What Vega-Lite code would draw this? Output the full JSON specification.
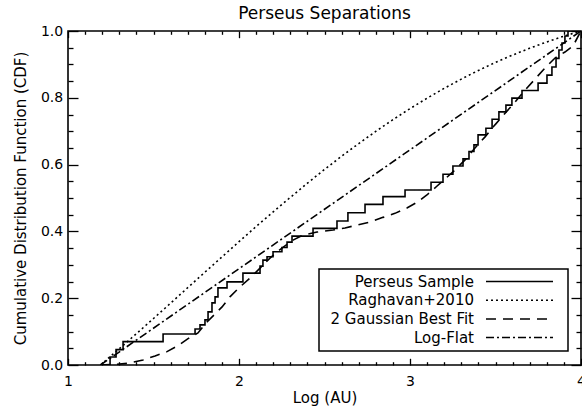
{
  "$schema": "https://vega.github.io/schema/vega-lite/v6.json",
  "width": 513,
  "height": 334,
  "autosize": {"type": "none"},
  "padding": {"left": 68, "top": 31, "right": 1, "bottom": 50},
  "title": {"text": "Perseus Separations", "fontSize": 17, "fontWeight": "normal", "font": "DejaVu Sans", "color": "black", "baseline": "alphabetic", "offset": -11.5, "anchor": "middle", "frame": "group"},
  "config": {
    "view": {"stroke": "black", "strokeWidth": 1.6},
    "font": "DejaVu Sans",
    "axis": {"labelColor": "black", "titleColor": "black", "domain": false, "ticks": true, "tickColor": "#000000", "tickOpacity": 1, "tickWidth": 1.3, "grid": false, "labelFont": "DejaVu Sans", "titleFont": "DejaVu Sans", "labelFontSize": 14, "titleFontSize": 15, "titleFontWeight": "normal", "labelFlush": false, "zindex": 1},
    "legend": {"strokeWidth": 1.5}
  },
  "datasets": {
    "raghavan": [
      {"series": "Raghavan+2010", "x": 1.19, "y": 0},
      {"series": "Raghavan+2010", "x": 1.3, "y": 0.0486},
      {"series": "Raghavan+2010", "x": 1.4, "y": 0.0937},
      {"series": "Raghavan+2010", "x": 1.5, "y": 0.1393},
      {"series": "Raghavan+2010", "x": 1.6, "y": 0.1851},
      {"series": "Raghavan+2010", "x": 1.7, "y": 0.2314},
      {"series": "Raghavan+2010", "x": 1.8, "y": 0.2775},
      {"series": "Raghavan+2010", "x": 1.9, "y": 0.3234},
      {"series": "Raghavan+2010", "x": 2.0, "y": 0.3692},
      {"series": "Raghavan+2010", "x": 2.1, "y": 0.4145},
      {"series": "Raghavan+2010", "x": 2.2, "y": 0.4583},
      {"series": "Raghavan+2010", "x": 2.3, "y": 0.5018},
      {"series": "Raghavan+2010", "x": 2.4, "y": 0.5442},
      {"series": "Raghavan+2010", "x": 2.5, "y": 0.5854},
      {"series": "Raghavan+2010", "x": 2.6, "y": 0.625},
      {"series": "Raghavan+2010", "x": 2.7, "y": 0.6629},
      {"series": "Raghavan+2010", "x": 2.8, "y": 0.6995},
      {"series": "Raghavan+2010", "x": 2.9, "y": 0.7345},
      {"series": "Raghavan+2010", "x": 3.0, "y": 0.7676},
      {"series": "Raghavan+2010", "x": 3.1, "y": 0.7988},
      {"series": "Raghavan+2010", "x": 3.2, "y": 0.8283},
      {"series": "Raghavan+2010", "x": 3.3, "y": 0.856},
      {"series": "Raghavan+2010", "x": 3.4, "y": 0.8819},
      {"series": "Raghavan+2010", "x": 3.5, "y": 0.906},
      {"series": "Raghavan+2010", "x": 3.6, "y": 0.928},
      {"series": "Raghavan+2010", "x": 3.7, "y": 0.9484},
      {"series": "Raghavan+2010", "x": 3.8, "y": 0.9673},
      {"series": "Raghavan+2010", "x": 3.9, "y": 0.9845},
      {"series": "Raghavan+2010", "x": 4.0, "y": 1.0}
    ],
    "gaussian": [
      {"series": "2 Gaussian Best Fit", "x": 1.187, "y": 0},
      {"series": "2 Gaussian Best Fit", "x": 1.275, "y": 0.0015},
      {"series": "2 Gaussian Best Fit", "x": 1.345, "y": 0.005},
      {"series": "2 Gaussian Best Fit", "x": 1.439, "y": 0.015},
      {"series": "2 Gaussian Best Fit", "x": 1.509, "y": 0.027},
      {"series": "2 Gaussian Best Fit", "x": 1.579, "y": 0.04},
      {"series": "2 Gaussian Best Fit", "x": 1.643, "y": 0.058},
      {"series": "2 Gaussian Best Fit", "x": 1.702, "y": 0.079},
      {"series": "2 Gaussian Best Fit", "x": 1.76, "y": 0.096},
      {"series": "2 Gaussian Best Fit", "x": 1.813, "y": 0.129},
      {"series": "2 Gaussian Best Fit", "x": 1.86, "y": 0.153},
      {"series": "2 Gaussian Best Fit", "x": 1.901, "y": 0.174},
      {"series": "2 Gaussian Best Fit", "x": 1.947, "y": 0.204},
      {"series": "2 Gaussian Best Fit", "x": 2.006, "y": 0.234},
      {"series": "2 Gaussian Best Fit", "x": 2.064, "y": 0.26},
      {"series": "2 Gaussian Best Fit", "x": 2.123, "y": 0.29},
      {"series": "2 Gaussian Best Fit", "x": 2.181, "y": 0.32},
      {"series": "2 Gaussian Best Fit", "x": 2.251, "y": 0.35},
      {"series": "2 Gaussian Best Fit", "x": 2.316, "y": 0.374},
      {"series": "2 Gaussian Best Fit", "x": 2.374, "y": 0.389},
      {"series": "2 Gaussian Best Fit", "x": 2.456, "y": 0.398},
      {"series": "2 Gaussian Best Fit", "x": 2.55, "y": 0.404},
      {"series": "2 Gaussian Best Fit", "x": 2.62, "y": 0.41},
      {"series": "2 Gaussian Best Fit", "x": 2.69, "y": 0.419},
      {"series": "2 Gaussian Best Fit", "x": 2.766, "y": 0.428},
      {"series": "2 Gaussian Best Fit", "x": 2.842, "y": 0.442},
      {"series": "2 Gaussian Best Fit", "x": 2.912, "y": 0.454},
      {"series": "2 Gaussian Best Fit", "x": 2.982, "y": 0.47},
      {"series": "2 Gaussian Best Fit", "x": 3.041, "y": 0.487},
      {"series": "2 Gaussian Best Fit", "x": 3.099, "y": 0.509},
      {"series": "2 Gaussian Best Fit", "x": 3.152, "y": 0.533},
      {"series": "2 Gaussian Best Fit", "x": 3.205, "y": 0.557},
      {"series": "2 Gaussian Best Fit", "x": 3.263, "y": 0.584},
      {"series": "2 Gaussian Best Fit", "x": 3.322, "y": 0.614},
      {"series": "2 Gaussian Best Fit", "x": 3.38, "y": 0.65},
      {"series": "2 Gaussian Best Fit", "x": 3.439, "y": 0.683},
      {"series": "2 Gaussian Best Fit", "x": 3.497, "y": 0.719},
      {"series": "2 Gaussian Best Fit", "x": 3.556, "y": 0.754},
      {"series": "2 Gaussian Best Fit", "x": 3.614, "y": 0.787},
      {"series": "2 Gaussian Best Fit", "x": 3.673, "y": 0.823},
      {"series": "2 Gaussian Best Fit", "x": 3.731, "y": 0.856},
      {"series": "2 Gaussian Best Fit", "x": 3.789, "y": 0.889},
      {"series": "2 Gaussian Best Fit", "x": 3.848, "y": 0.919},
      {"series": "2 Gaussian Best Fit", "x": 3.906, "y": 0.937},
      {"series": "2 Gaussian Best Fit", "x": 3.953, "y": 0.955},
      {"series": "2 Gaussian Best Fit", "x": 4.0, "y": 1.0}
    ],
    "logflat": [
      {"series": "Log-Flat", "x": 1.19, "y": 0},
      {"series": "Log-Flat", "x": 4.0, "y": 1.0}
    ],
    "sample": [
      {"series": "Perseus Sample", "x": 1.19, "y": 0},
      {"series": "Perseus Sample", "x": 1.246, "y": 0.024},
      {"series": "Perseus Sample", "x": 1.281, "y": 0.046},
      {"series": "Perseus Sample", "x": 1.322, "y": 0.07},
      {"series": "Perseus Sample", "x": 1.556, "y": 0.093},
      {"series": "Perseus Sample", "x": 1.743, "y": 0.108},
      {"series": "Perseus Sample", "x": 1.772, "y": 0.12},
      {"series": "Perseus Sample", "x": 1.801, "y": 0.135},
      {"series": "Perseus Sample", "x": 1.819, "y": 0.159},
      {"series": "Perseus Sample", "x": 1.842, "y": 0.186},
      {"series": "Perseus Sample", "x": 1.86, "y": 0.204},
      {"series": "Perseus Sample", "x": 1.877, "y": 0.231},
      {"series": "Perseus Sample", "x": 1.93, "y": 0.249},
      {"series": "Perseus Sample", "x": 2.023, "y": 0.275},
      {"series": "Perseus Sample", "x": 2.123, "y": 0.296},
      {"series": "Perseus Sample", "x": 2.14, "y": 0.314},
      {"series": "Perseus Sample", "x": 2.164, "y": 0.324},
      {"series": "Perseus Sample", "x": 2.199, "y": 0.339},
      {"series": "Perseus Sample", "x": 2.251, "y": 0.352},
      {"series": "Perseus Sample", "x": 2.281, "y": 0.368},
      {"series": "Perseus Sample", "x": 2.31, "y": 0.386},
      {"series": "Perseus Sample", "x": 2.433, "y": 0.409},
      {"series": "Perseus Sample", "x": 2.573, "y": 0.431},
      {"series": "Perseus Sample", "x": 2.637, "y": 0.456},
      {"series": "Perseus Sample", "x": 2.737, "y": 0.481},
      {"series": "Perseus Sample", "x": 2.842, "y": 0.504},
      {"series": "Perseus Sample", "x": 2.971, "y": 0.524},
      {"series": "Perseus Sample", "x": 3.123, "y": 0.547},
      {"series": "Perseus Sample", "x": 3.193, "y": 0.571},
      {"series": "Perseus Sample", "x": 3.251, "y": 0.596},
      {"series": "Perseus Sample", "x": 3.31, "y": 0.617},
      {"series": "Perseus Sample", "x": 3.345, "y": 0.639},
      {"series": "Perseus Sample", "x": 3.374, "y": 0.659},
      {"series": "Perseus Sample", "x": 3.398, "y": 0.689},
      {"series": "Perseus Sample", "x": 3.444, "y": 0.709},
      {"series": "Perseus Sample", "x": 3.48, "y": 0.736},
      {"series": "Perseus Sample", "x": 3.52, "y": 0.758},
      {"series": "Perseus Sample", "x": 3.561, "y": 0.778},
      {"series": "Perseus Sample", "x": 3.596, "y": 0.799},
      {"series": "Perseus Sample", "x": 3.655, "y": 0.822},
      {"series": "Perseus Sample", "x": 3.749, "y": 0.844},
      {"series": "Perseus Sample", "x": 3.801, "y": 0.868},
      {"series": "Perseus Sample", "x": 3.83, "y": 0.892},
      {"series": "Perseus Sample", "x": 3.854, "y": 0.918},
      {"series": "Perseus Sample", "x": 3.871, "y": 0.943},
      {"series": "Perseus Sample", "x": 3.889, "y": 0.964},
      {"series": "Perseus Sample", "x": 3.906, "y": 0.985},
      {"series": "Perseus Sample", "x": 3.924, "y": 1.0},
      {"series": "Perseus Sample", "x": 4.0, "y": 1.0}
    ]
  },
  "layer": [
    {
      "data": {"name": "raghavan"},
      "mark": {"type": "line", "color": "black", "strokeWidth": 1.6, "clip": true},
      "encoding": {
        "x": {"field": "x", "type": "quantitative", "scale": {"domain": [1, 4], "nice": false, "zero": false},
          "axis": {"orient": "bottom", "title": "Log (AU)", "values": [1, 2, 3, 4], "format": "d", "offset": -6.7, "ticks": true, "tickSize": 6.7, "labelPadding": 9.3, "titlePadding": 2, "zindex": 1}},
        "y": {"field": "y", "type": "quantitative", "scale": {"domain": [0, 1], "nice": false, "zero": false},
          "axis": {"orient": "left", "title": "Cumulative Distribution Function (CDF)", "values": [0, 0.2, 0.4, 0.6, 0.8, 1], "format": ".1f", "offset": -10, "ticks": true, "tickSize": 10, "labelPadding": 5.3, "titlePadding": 12, "zindex": 1}},
        "strokeDash": {"field": "series", "type": "nominal",
          "scale": {"domain": ["Perseus Sample", "Raghavan+2010", "2 Gaussian Best Fit", "Log-Flat"], "range": [[1, 0], [2, 3], [10, 7], [8, 3, 2, 3]]},
          "legend": {"orient": "none", "legendX": 251, "legendY": 238, "title": null, "symbolType": "M-5,0H5M6,0", "symbolSize": 179.6, "symbolOffset": 188, "labelOffset": -53, "labelAlign": "right", "rowPadding": 2.7, "padding": 5, "strokeColor": "black", "fillColor": "white", "labelFontSize": 15, "labelFont": "DejaVu Sans", "labelColor": "black", "labelLimit": 300, "symbolStrokeWidth": 1.5, "symbolStrokeColor": "black"}}
      }
    },
    {
      "data": {"name": "gaussian"},
      "mark": {"type": "line", "color": "black", "strokeWidth": 1.6, "clip": true},
      "encoding": {
        "x": {"field": "x", "type": "quantitative", "scale": {"domain": [1, 4], "nice": false, "zero": false},
          "axis": {"orient": "bottom", "title": null, "labels": false, "values": [1.1,1.2,1.3,1.4,1.5,1.6,1.7,1.8,1.9,2.1,2.2,2.3,2.4,2.5,2.6,2.7,2.8,2.9,3.1,3.2,3.3,3.4,3.5,3.6,3.7,3.8,3.9], "offset": -3.3, "ticks": true, "tickSize": 3.3, "zindex": 1}},
        "y": {"field": "y", "type": "quantitative", "scale": {"domain": [0, 1], "nice": false, "zero": false},
          "axis": {"orient": "left", "title": null, "labels": false, "values": [0.05,0.1,0.15,0.25,0.3,0.35,0.45,0.5,0.55,0.65,0.7,0.75,0.85,0.9,0.95], "offset": -5, "ticks": true, "tickSize": 5, "zindex": 1}},
        "strokeDash": {"field": "series", "type": "nominal",
          "scale": {"domain": ["Perseus Sample", "Raghavan+2010", "2 Gaussian Best Fit", "Log-Flat"], "range": [[1, 0], [2, 3], [10, 7], [8, 3, 2, 3]]},
          "legend": {"orient": "none", "legendX": 251, "legendY": 238, "title": null, "symbolType": "M-5,0H5M6,0", "symbolSize": 179.6, "symbolOffset": 188, "labelOffset": -53, "labelAlign": "right", "rowPadding": 2.7, "padding": 5, "strokeColor": "black", "fillColor": "white", "labelFontSize": 15, "labelFont": "DejaVu Sans", "labelColor": "black", "labelLimit": 300, "symbolStrokeWidth": 1.5, "symbolStrokeColor": "black"}}
      }
    },
    {
      "data": {"name": "logflat"},
      "mark": {"type": "line", "color": "black", "strokeWidth": 1.6, "clip": true},
      "encoding": {
        "x": {"field": "x", "type": "quantitative", "scale": {"domain": [1, 4], "nice": false, "zero": false},
          "axis": {"orient": "top", "title": null, "labels": false, "values": [1, 2, 3, 4], "offset": -6.7, "ticks": true, "tickSize": 6.7, "minExtent": 0, "maxExtent": 0, "zindex": 1}},
        "y": {"field": "y", "type": "quantitative", "scale": {"domain": [0, 1], "nice": false, "zero": false},
          "axis": {"orient": "right", "title": null, "labels": false, "values": [0, 0.2, 0.4, 0.6, 0.8, 1], "offset": -10, "ticks": true, "tickSize": 10, "zindex": 1}},
        "strokeDash": {"field": "series", "type": "nominal",
          "scale": {"domain": ["Perseus Sample", "Raghavan+2010", "2 Gaussian Best Fit", "Log-Flat"], "range": [[1, 0], [2, 3], [10, 7], [8, 3, 2, 3]]},
          "legend": {"orient": "none", "legendX": 251, "legendY": 238, "title": null, "symbolType": "M-5,0H5M6,0", "symbolSize": 179.6, "symbolOffset": 188, "labelOffset": -53, "labelAlign": "right", "rowPadding": 2.7, "padding": 5, "strokeColor": "black", "fillColor": "white", "labelFontSize": 15, "labelFont": "DejaVu Sans", "labelColor": "black", "labelLimit": 300, "symbolStrokeWidth": 1.5, "symbolStrokeColor": "black"}}
      }
    },
    {
      "data": {"name": "sample"},
      "mark": {"type": "line", "color": "black", "strokeWidth": 1.6, "interpolate": "step-after", "clip": true},
      "encoding": {
        "x": {"field": "x", "type": "quantitative", "scale": {"domain": [1, 4], "nice": false, "zero": false},
          "axis": {"orient": "top", "title": null, "labels": false, "values": [1.1,1.2,1.3,1.4,1.5,1.6,1.7,1.8,1.9,2.1,2.2,2.3,2.4,2.5,2.6,2.7,2.8,2.9,3.1,3.2,3.3,3.4,3.5,3.6,3.7,3.8,3.9], "offset": -3.3, "ticks": true, "tickSize": 3.3, "minExtent": 0, "maxExtent": 0, "zindex": 1}},
        "y": {"field": "y", "type": "quantitative", "scale": {"domain": [0, 1], "nice": false, "zero": false},
          "axis": {"orient": "right", "title": null, "labels": false, "values": [0.05,0.1,0.15,0.25,0.3,0.35,0.45,0.5,0.55,0.65,0.7,0.75,0.85,0.9,0.95], "offset": -5, "ticks": true, "tickSize": 5, "zindex": 1}},
        "strokeDash": {"field": "series", "type": "nominal",
          "scale": {"domain": ["Perseus Sample", "Raghavan+2010", "2 Gaussian Best Fit", "Log-Flat"], "range": [[1, 0], [2, 3], [10, 7], [8, 3, 2, 3]]},
          "legend": {"orient": "none", "legendX": 251, "legendY": 238, "title": null, "symbolType": "M-5,0H5M6,0", "symbolSize": 179.6, "symbolOffset": 188, "labelOffset": -53, "labelAlign": "right", "rowPadding": 2.7, "padding": 5, "strokeColor": "black", "fillColor": "white", "labelFontSize": 15, "labelFont": "DejaVu Sans", "labelColor": "black", "labelLimit": 300, "symbolStrokeWidth": 1.5, "symbolStrokeColor": "black"}}
      }
    }
  ],
  "resolve": {"axis": {"x": "independent", "y": "independent"}}
}
